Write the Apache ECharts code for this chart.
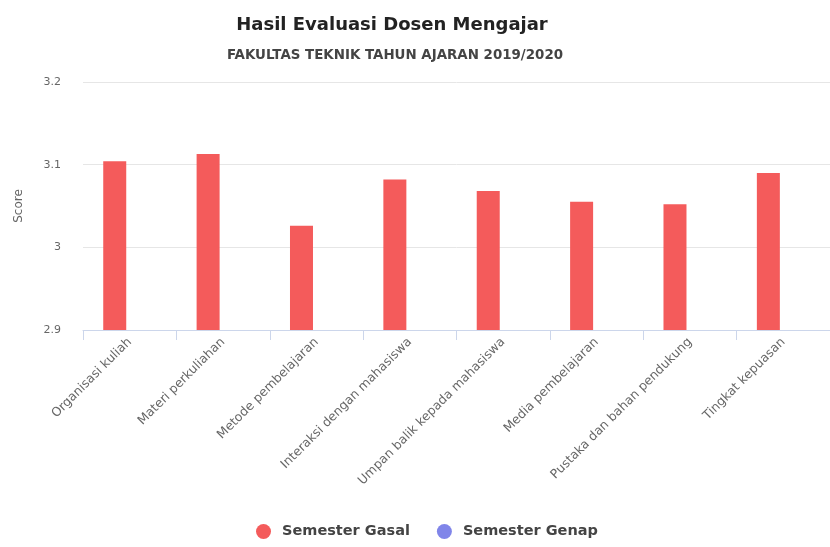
<!DOCTYPE html>
<html><head><meta charset="utf-8">
<script src="https://cdn.jsdelivr.net/npm/echarts@6/dist/echarts.min.js"></script>
<style>html,body{margin:0;padding:0;background:#fff}#c{width:830px;height:547px}</style>
</head><body><div id="c"></div>
<script>
const categories = ["Organisasi kuliah","Materi perkuliahan","Metode pembelajaran","Interaksi dengan mahasiswa","Umpan balik kepada mahasiswa","Media pembelajaran","Pustaka dan bahan pendukung","Tingkat kepuasan"];
const semesterGasal = [3.104,3.113,3.026,3.082,3.068,3.055,3.052,3.090];
const semesterGenap = [];
const yTicks = {min:2.9, max:3.2, interval:0.1};

const F = 'DejaVu Sans';
const chart = echarts.init(document.getElementById('c'));
chart.setOption({
  animation:false,
  title:[
    {text:'Hasil Evaluasi Dosen Mengajar',left:387,textAlign:'center',top:11,
      textStyle:{fontFamily:F,fontWeight:'bold',fontSize:18,color:'#222'}},
    {text:'FAKULTAS TEKNIK TAHUN AJARAN 2019/2020',left:390,textAlign:'center',top:44,
      textStyle:{fontFamily:F,fontWeight:'bold',fontSize:13.4,color:'#444'}}
  ],
  legend:{bottom:3,left:251,icon:'circle',itemWidth:15,itemHeight:15,itemGap:27,
    textStyle:{fontFamily:F,fontWeight:'bold',fontSize:14.5,color:'#444',padding:[0,0,0,6]}},
  grid:{left:83,right:-8,top:82,bottom:217},
  xAxis:{type:'category',data:categories,
    axisLine:{lineStyle:{color:'#ccd6eb'}},
    axisTick:{show:true,length:10,lineStyle:{color:'#ccd6eb'}},
    axisLabel:{rotate:45,fontFamily:F,fontSize:12.5,color:'#666',margin:10}},
  yAxis:{type:'value',min:yTicks.min,max:yTicks.max,interval:yTicks.interval,name:'Score',
    nameLocation:'middle',nameGap:58,nameTextStyle:{fontFamily:F,fontSize:12,color:'#666'},
    axisLabel:{fontFamily:F,fontSize:11,color:'#666',margin:22,formatter:v=>String(+v.toFixed(2))},
    splitLine:{lineStyle:{color:'#e6e6e6'}},axisLine:{show:false},axisTick:{show:false}},
  series:[
    {name:'Semester Gasal',type:'bar',data:semesterGasal,barWidth:23,barGap:'30%',itemStyle:{color:'#f45b5b'}},
    {name:'Semester Genap',type:'bar',data:semesterGenap,barWidth:23,itemStyle:{color:'#8085e9'}}
  ]
});
</script></body></html>
